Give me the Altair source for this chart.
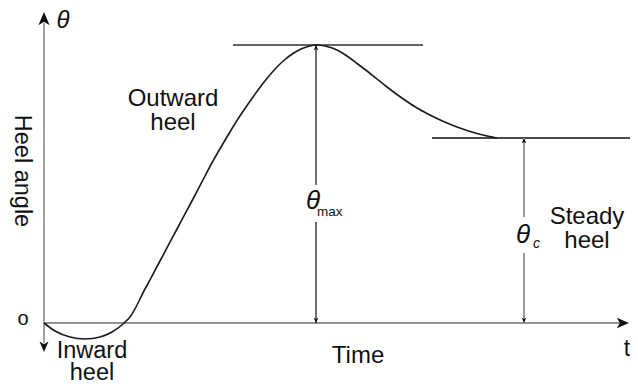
import altair as alt
import pandas as pd

# ---- data (time units ~ px from origin, heel angle units) ----
time = [0, 11, 26, 41, 56, 68, 79, 86, 101, 116, 133, 149, 161, 169, 177, 185, 193,
        201, 209, 217, 225, 233, 241, 249, 257, 265, 273, 283, 293, 303, 313, 323,
        333, 343, 353, 363, 373, 383, 393, 403, 413, 423, 433, 443, 453]
heel = [0, -8, -14, -16, -14, -9, -1, 6, 34, 62, 94, 124, 147, 162, 176, 189.5, 202.5,
        214.5, 226, 237, 247, 256, 263.5, 269.5, 274, 276.8, 278, 276.5, 273, 267,
        259.5, 252, 244, 236, 228.5, 221.5, 215, 209.5, 204.5, 200, 196, 192.5,
        189.5, 187, 185]

theta_max = 278
theta_c = 185
t_peak = 272
t_steady = 480
max_line_span = [189, 379]
steady_line_span = [388, 600]
t_axis_end = 582
a_axis_span = [-20, 300]

FONT = "Liberation Sans, Arial, sans-serif"
xs = alt.Scale(domain=[-36, 586], nice=False, zero=False)
ys = alt.Scale(domain=[-58, 315], nice=False, zero=False)
one = pd.DataFrame({"k": [0]})

UP = "M0,-1 L0.75,0.75 L0,0.3 L-0.75,0.75 Z"
DOWN = "M0,1 L0.75,-0.75 L0,-0.3 L-0.75,-0.75 Z"
RIGHT = "M1,0 L-0.75,0.75 L-0.3,0 L-0.75,-0.75 Z"


def X(v):
    return alt.X(datum=v, scale=xs, axis=None)


def Y(v):
    return alt.Y(datum=v, scale=ys, axis=None)


def vrule(t, a0, a1, color, w):
    return alt.Chart(one).mark_rule(color=color, strokeWidth=w).encode(
        x=X(t), y=Y(a0), y2=alt.Y2(datum=a1))


def hrule(t0, t1, a, color, w):
    return alt.Chart(one).mark_rule(color=color, strokeWidth=w).encode(
        x=X(t0), x2=alt.X2(datum=t1), y=Y(a))


def head(t, a, shape, size, color="#111111"):
    return alt.Chart(one).mark_point(shape=shape, filled=True, size=size, color=color,
                                     opacity=1, strokeWidth=0).encode(x=X(t), y=Y(a))


def txt(label, t, a, size, style="normal", align="center", baseline="alphabetic",
        angle=0, lh=None):
    kw = {}
    if lh is not None:
        kw = {"lineBreak": "\n", "lineHeight": lh}
    return alt.Chart(one).mark_text(text=label, font=FONT, fontSize=size, fontStyle=style,
                                    align=align, baseline=baseline, angle=angle,
                                    color="#111111", **kw).encode(x=X(t), y=Y(a))


curve = alt.Chart(pd.DataFrame({"t": time, "a": heel})).mark_line(
    color="#1a1a1a", strokeWidth=1.6, interpolate="monotone").encode(
    x=alt.X("t:Q", scale=xs, axis=None), y=alt.Y("a:Q", scale=ys, axis=None))

layers = [
    # axes
    vrule(0, a_axis_span[0], a_axis_span[1], "#8a8a8a", 1.6),
    hrule(0, t_axis_end, 0, "#6e6e6e", 1.5),
    head(0, 303.5, UP, 225),
    head(0, -23, DOWN, 144),
    head(578, 0, RIGHT, 196),
    # reference lines
    hrule(max_line_span[0], max_line_span[1], theta_max, "#333333", 1.5),
    hrule(steady_line_span[0], steady_line_span[1], theta_c, "#4a4a4a", 2),
    # theta max arrow
    vrule(t_peak, 0, 101, "#222222", 1.3),
    vrule(t_peak, 138, theta_max, "#222222", 1.3),
    head(t_peak, theta_max - 3, UP, 36),
    head(t_peak, 3, DOWN, 36),
    # theta c arrow
    vrule(t_steady, 0, 70, "#9a9a9a", 2),
    vrule(t_steady, 106, theta_c, "#9a9a9a", 2),
    head(t_steady, theta_c - 3, UP, 36),
    head(t_steady, 3, DOWN, 36),
    curve,
    # labels
    txt("θ", 19, 295, 24, "italic"),
    txt("Heel angle", -22, 152, 23.5, baseline="middle", angle=90),
    txt("o", -21, -2, 20),
    txt("Outward\nheel", 129, 217, 24, lh=24),
    txt("Inward\nheel", 48, -35, 23.5, lh=22),
    txt("Time", 314, -40, 24),
    txt("t", 583, -33, 23),
    txt("θ", 269, 122, 26, "italic", baseline="middle"),
    txt("max", 273, 107, 13.5, align="left"),
    txt("θ", 479, 88, 26, "italic", baseline="middle"),
    txt("c", 489, 75, 14, "italic", align="left"),
    txt("Steady\nheel", 543, 99, 24, lh=24),
]

chart = alt.layer(*layers).properties(
    width=622, height=373, padding=0, autosize=alt.AutoSizeParams(type="none"),
    background="white",
).configure_view(stroke=None)

chart.save("out.html", embed_options={"renderer": "svg", "actions": False})
